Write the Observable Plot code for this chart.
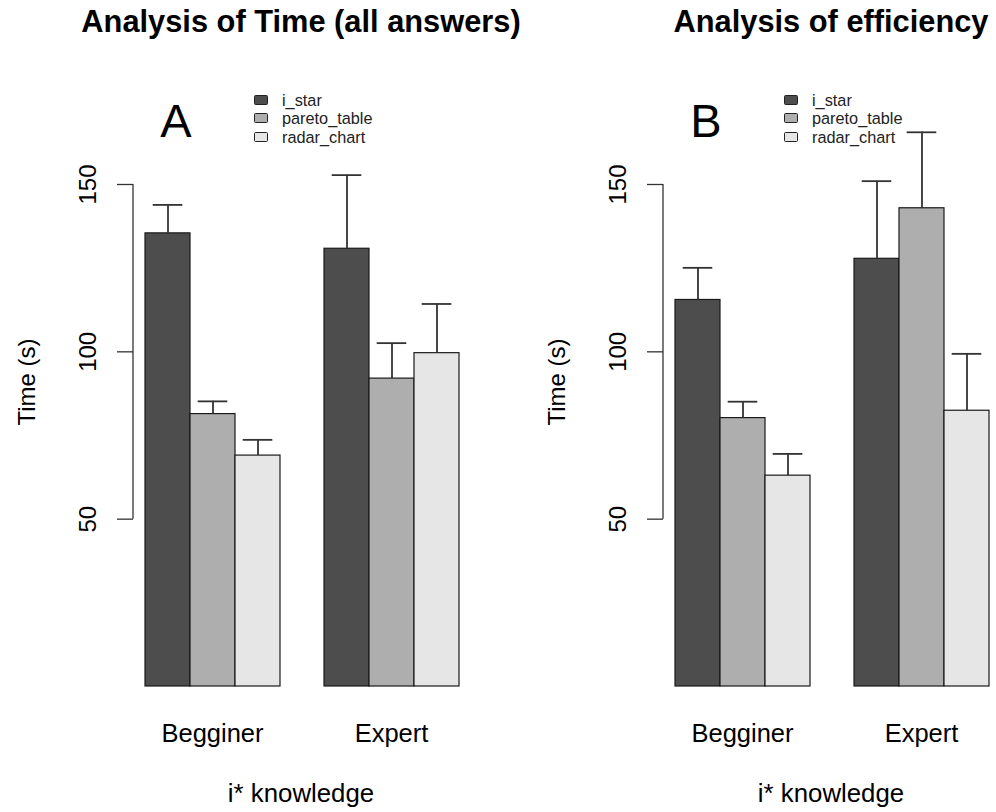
<!DOCTYPE html>
<html>
<head>
<meta charset="utf-8">
<script src="https://cdn.jsdelivr.net/npm/d3@7"></script>
<script src="https://cdn.jsdelivr.net/npm/@observablehq/plot@0.6"></script>
<style>
  body { margin: 0; background: #fff; }
  #root { position: relative; width: 996px; height: 812px; overflow: hidden; background: #fff;
          font-family: "Liberation Sans", Arial, Helvetica, sans-serif; color: #000; }
  .panel { position: absolute; top: 0; height: 812px; }
  .panel svg { position: absolute; left: 0; top: 0; overflow: visible; }
  .txt { position: absolute; white-space: nowrap; line-height: 1; }
  .title { font-weight: bold; font-size: 30.8px; transform: translateX(-50%); }
  .letter { font-size: 47px; transform: translateX(-50%); }
  .xlab { font-size: 25.8px; transform: translateX(-50%); }
  .ylab { font-size: 24px; transform: translate(-50%, -50%) rotate(-90deg); }
  .legrow { position: absolute; display: flex; align-items: center; height: 14px; font-size: 16.3px; color: #222; }
  .legrow span { line-height: 14px; height: 14px; display: block; }
  .legrow .sw { width: 12px; height: 8px; border: 1px solid #222; border-radius: 1.5px; margin-right: 14px; }
</style>
</head>
<body>
<div id="root"></div>
<script>
// ---- data ----
const groups = ["Begginer", "Expert"];
const series = ["i_star", "pareto_table", "radar_chart"];
const seriesColors = ["#4D4D4D", "#AEAEAE", "#E6E6E6"];
const yTicks = [50, 100, 150];

// Panel A: Analysis of Time (all answers) — means and upper error limits (Begginer x3, Expert x3)
const timeMeans = [135.4, 81.4, 69.0, 130.8, 92.0, 99.6];
const timeUpper = [143.9, 85.2, 73.7, 152.8, 102.6, 114.3];
// Panel B: Analysis of efficiency
const effMeans = [115.5, 80.2, 63.0, 127.8, 142.9, 82.4];
const effUpper = [125.1, 85.1, 69.5, 151.0, 165.6, 99.4];

const titles = ["Analysis of Time (all answers)", "Analysis of efficiency"];
const letters = ["A", "B"];
const yLabel = "Time (s)";
const xLabel = "i* knowledge";

function buildRows(means, upper) {
  const rows = [];
  groups.forEach((g, gi) => series.forEach((s, si) => {
    rows.push({group: g, series: s, value: means[gi * series.length + si], upper: upper[gi * series.length + si]});
  }));
  return rows;
}

function makePanel(idx, means, upper, left, width) {
  const rows = buildRows(means, upper);
  const mLeft = 144, mRight = width - 459;
  const chart = Plot.plot({
    width, height: 812,
    marginLeft: mLeft, marginRight: mRight, marginTop: 184, marginBottom: 126,
    style: {fontFamily: "'Liberation Sans', Arial, Helvetica, sans-serif", fontSize: "24px", color: "#000", background: "transparent", overflow: "visible"},
    fx: {domain: groups, paddingInner: 43 / 179, paddingOuter: 0, label: null},
    x: {domain: series, padding: 0, axis: null},
    y: {domain: [0, 150], label: null},
    color: {domain: series, range: seriesColors},
    marks: [
      Plot.barY(rows, {fx: "group", x: "series", y: "value", fill: "series", stroke: "#1a1a1a", strokeWidth: 1.2}),
      Plot.ruleX(rows, {fx: "group", x: "series", y1: "value", y2: "upper", stroke: "#333", strokeWidth: 1.8}),
      Plot.tickY(rows, {fx: "group", x: "series", y: "upper", stroke: "#333", strokeWidth: 1.8, inset: 7.7}),
      Plot.axisY({ticks: yTicks, tickSize: 16, tickPadding: 22, tickRotate: -90, dx: -11, fontSize: 24, stroke: "#333", strokeWidth: 1.3, label: null}),
      Plot.axisFx({anchor: "bottom", tickSize: 0, tickPadding: 37, fontSize: 25.5, label: null})
    ]
  });
  // axis line spanning the tick range (R style)
  const y = chart.scale("y");
  const ns = "http://www.w3.org/2000/svg";
  const line = document.createElementNS(ns, "line");
  line.setAttribute("x1", mLeft - 11); line.setAttribute("x2", mLeft - 11);
  line.setAttribute("y1", y.apply(yTicks[0])); line.setAttribute("y2", y.apply(yTicks[yTicks.length - 1]));
  line.setAttribute("stroke", "#333"); line.setAttribute("stroke-width", 1.3);
  chart.appendChild(line);

  const panel = document.createElement("div");
  panel.className = "panel";
  panel.style.left = left + "px";
  panel.style.width = width + "px";
  panel.appendChild(chart);

  const add = (cls, text, x, top) => {
    const d = document.createElement("div");
    d.className = "txt " + cls;
    d.textContent = text;
    d.style.left = x + "px";
    d.style.top = top + "px";
    panel.appendChild(d);
    return d;
  };
  add("title", titles[idx], 301, 6.9);
  add("letter", letters[idx], 176, 97.2);
  add("ylab", yLabel, 27, 382);
  add("xlab", xLabel, 301, 781.2);

  series.forEach((s, i) => {
    const r = document.createElement("div");
    r.className = "legrow";
    r.style.left = "254px";
    r.style.top = (92.5 + i * 18.5) + "px";
    const sw = document.createElement("div");
    sw.className = "sw";
    sw.style.background = seriesColors[i];
    const t = document.createElement("span");
    t.textContent = s;
    r.appendChild(sw); r.appendChild(t);
    panel.appendChild(r);
  });
  document.getElementById("root").appendChild(panel);
}

makePanel(0, timeMeans, timeUpper, 0, 530);
makePanel(1, effMeans, effUpper, 530, 466);
</script>
</body>
</html>
